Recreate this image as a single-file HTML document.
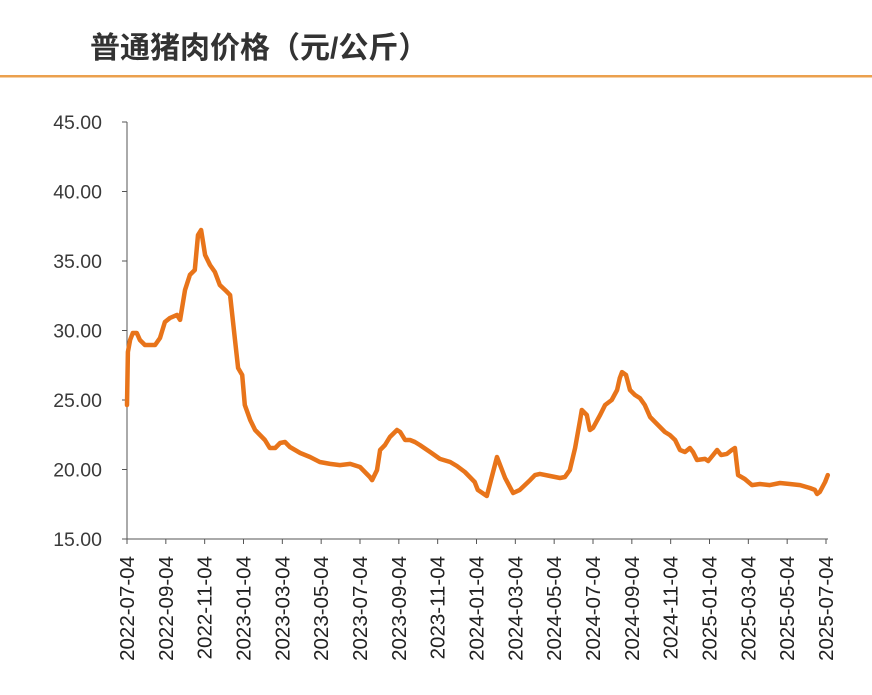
<!DOCTYPE html>
<html><head><meta charset="utf-8"><style>
body{margin:0;background:#fff;width:872px;height:690px;overflow:hidden;font-family:"Liberation Sans","Noto Sans CJK SC",sans-serif}
</style></head><body>
<svg width="872" height="690" xmlns="http://www.w3.org/2000/svg">
<text x="90" y="58" font-size="30" font-weight="bold" fill="#333" font-family="Liberation Sans, Noto Sans CJK SC, sans-serif">普通猪肉价格（元/公斤）</text>
<rect x="0" y="75" width="872" height="2.5" fill="#eba04e"/>
<g id="axes"></g>
<g id="plot"></g>
</svg>
<script>
const yTicks=[15,20,25,30,35,40,45];
const xLabels=["2022-07-04","2022-09-04","2022-11-04","2023-01-04","2023-03-04","2023-05-04","2023-07-04","2023-09-04","2023-11-04","2024-01-04","2024-03-04","2024-05-04","2024-07-04","2024-09-04","2024-11-04","2025-01-04","2025-03-04","2025-05-04","2025-07-04"];
const weeks=[0,0.2,0.7,1.3,2.2,2.9,4.0,6.3,7.4,8.5,9.6,11.2,11.9,13.0,14.1,15.2,15.9,16.6,17.5,18.6,19.7,20.8,22.0,23.1,24.2,24.9,25.8,26.4,27.6,28.7,29.8,30.9,32.0,33.2,34.3,35.4,36.5,38.8,41.0,43.2,45.5,47.7,50.0,52.2,53.3,54.4,54.9,56.0,56.7,57.8,58.9,60.5,61.2,62.3,63.4,64.5,65.6,67.9,70.1,72.4,73.9,75.7,77.9,78.6,80.6,82.9,84.7,86.5,88.0,90.3,91.4,92.5,94.8,97.0,98.1,99.2,100.4,101.5,101.9,103.0,103.7,104.4,106.0,107.1,108.6,109.8,110.4,110.9,111.8,112.7,113.8,114.9,116.0,117.2,118.3,120.5,121.6,122.8,123.9,125.0,126.1,126.8,127.7,129.5,130.2,131.3,132.2,133.1,134.4,135.5,136.2,136.9,138.4,140.0,141.8,144.0,146.3,148.5,150.8,153.0,154.1,154.6,155.2,156.4,157.0];
const prices=[24.64,28.45,29.32,29.82,29.82,29.32,28.96,28.96,29.46,30.61,30.90,31.12,30.76,32.91,34.0,34.35,36.87,37.23,35.43,34.71,34.21,33.27,32.91,32.55,29.32,27.30,26.80,24.64,23.56,22.84,22.48,22.12,21.55,21.55,21.91,21.98,21.62,21.19,20.90,20.54,20.40,20.32,20.40,20.18,19.82,19.46,19.24,19.96,21.40,21.76,22.34,22.84,22.70,22.12,22.12,21.98,21.76,21.26,20.76,20.54,20.25,19.82,19.10,18.53,18.09,20.90,19.39,18.31,18.53,19.24,19.60,19.68,19.53,19.39,19.46,19.96,21.55,23.56,24.28,23.92,22.84,22.99,23.92,24.64,25.0,25.72,26.58,27.01,26.80,25.72,25.36,25.14,24.64,23.78,23.42,22.70,22.48,22.12,21.40,21.26,21.55,21.26,20.68,20.76,20.61,21.04,21.40,21.04,21.12,21.40,21.55,19.60,19.32,18.88,18.96,18.88,19.03,18.96,18.88,18.67,18.53,18.24,18.38,19.10,19.60];
const NS="http://www.w3.org/2000/svg";
const X0=127,X1=826,Y0=539,Y1=122,WMAX=156.6;
const xw=w=>X0+(w/WMAX)*(X1-X0);
const yv=v=>Y0-(v-15)/(45-15)*(Y0-Y1);
const axes=document.getElementById('axes'),plot=document.getElementById('plot');
function mk(t,a,p){const e=document.createElementNS(NS,t);for(const k in a)e.setAttribute(k,a[k]);p.appendChild(e);return e;}
const ya=mk('line',{x1:X0,y1:Y1,x2:X0,y2:Y0,stroke:'#555','stroke-width':1},axes);


const xa=mk('line',{x1:X0-5,y1:Y0,x2:X1+2,y2:Y0,stroke:'#555','stroke-width':1},axes);


yTicks.forEach(v=>{const y=yv(v);
mk('line',{x1:X0-5,y1:y,x2:X0,y2:y,stroke:'#555'},axes);
const t=mk('text',{x:102,y:y+7,'text-anchor':'end','font-size':19.5,fill:'#3a3a3a'},axes);
t.textContent=v.toFixed(2);

});
xLabels.forEach((l,i)=>{const x=X0+i*(X1-X0)/(xLabels.length-1);
mk('line',{x1:x,y1:Y0,x2:x,y2:Y0+5,stroke:'#555'},axes);
const t=mk('text',{x:0,y:0,'text-anchor':'end','font-size':20.5,fill:'#222',transform:`translate(${x+7},${Y0+17}) rotate(-90)`},axes);
t.textContent=l;

});
const d=weeks.map((w,i)=>(i?'L':'M')+xw(w).toFixed(1)+','+yv(prices[i]).toFixed(1)).join('');
const p=mk('path',{d:d,fill:'none',stroke:'#e8741a','stroke-width':4.5,'stroke-linejoin':'round','stroke-linecap':'round'},plot);


</script>
</body></html>
